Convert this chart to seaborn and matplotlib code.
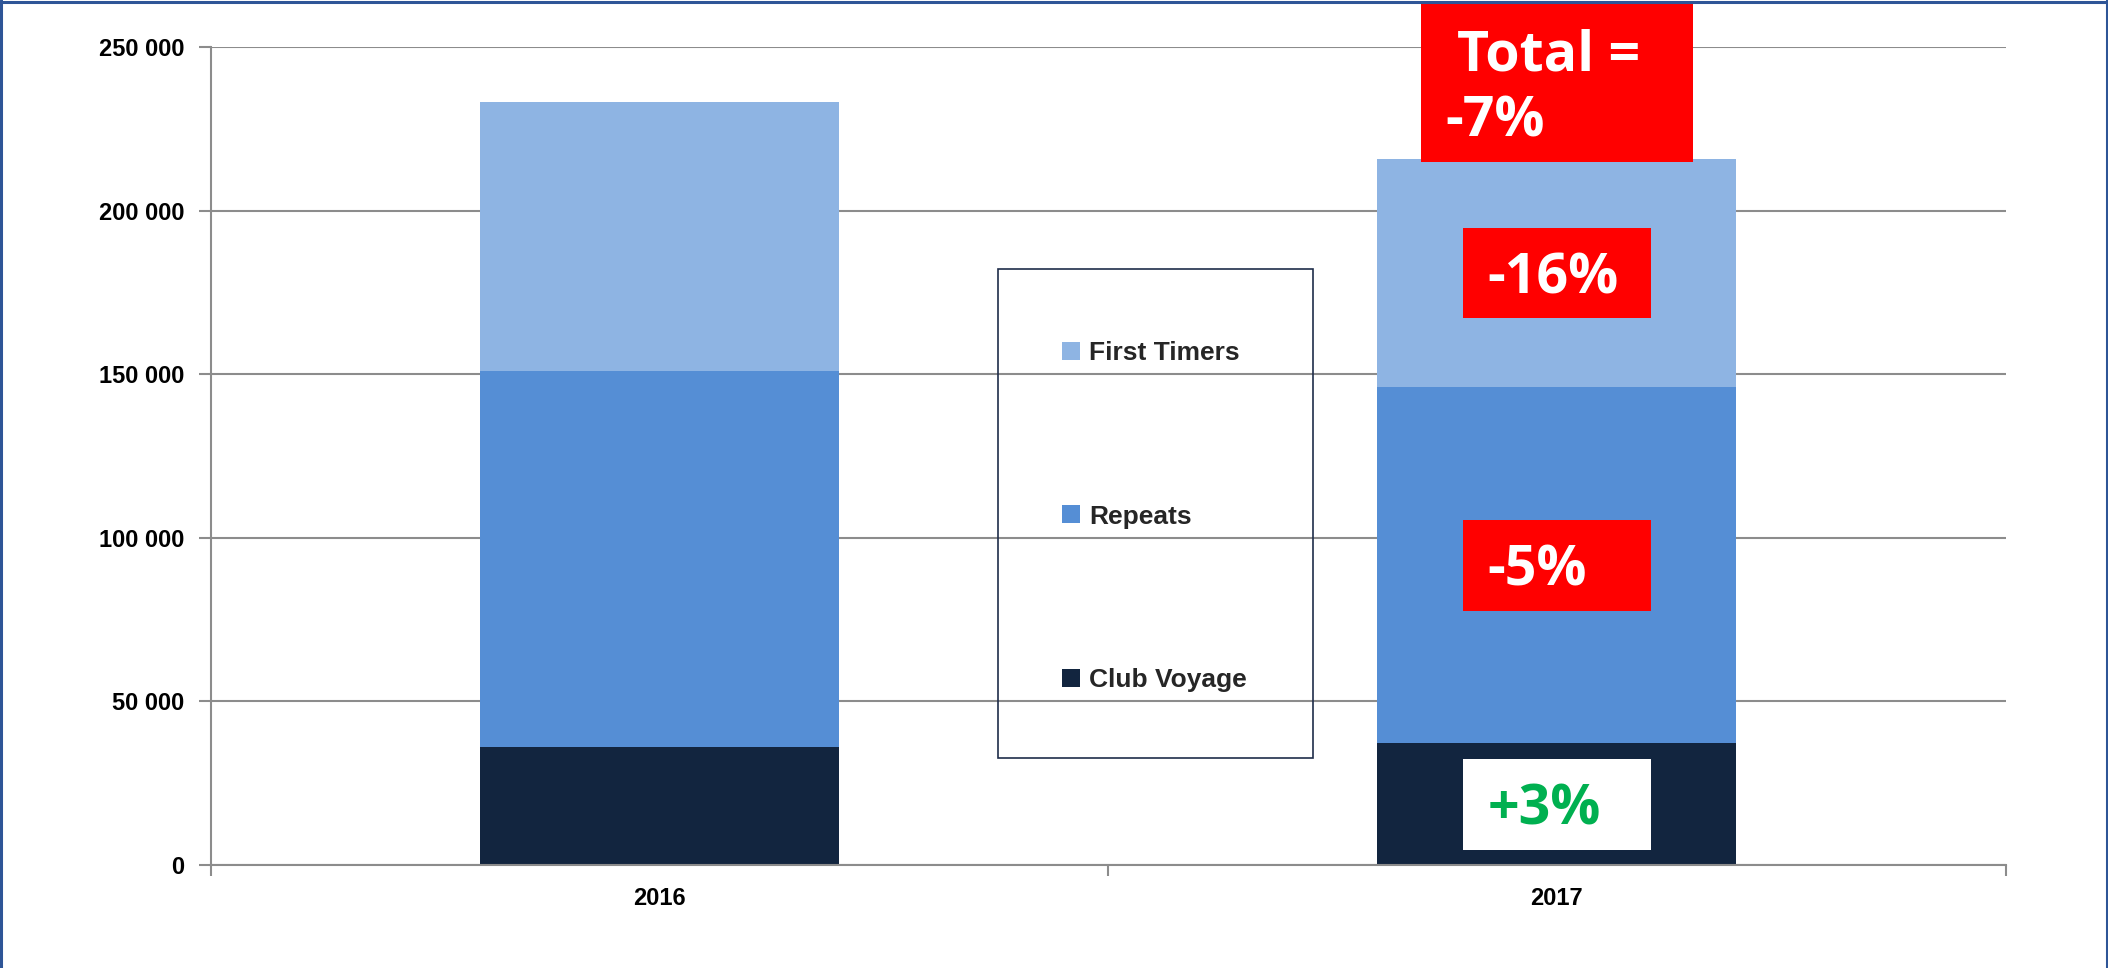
import matplotlib
matplotlib.use("Agg")
import numpy as np
import pandas as pd
import seaborn as sns
import matplotlib.pyplot as plt
from matplotlib.patches import Patch, Rectangle
from matplotlib.lines import Line2D

# ---------------- data ----------------
years = ["2016", "2017"]
club_voyage = [36000, 37200]
repeats = [114900, 109000]
first_timers = [82300, 69600]

series_names = ["First Timers", "Repeats", "Club Voyage"]
series_colors = ["#8EB4E3", "#558ED5", "#12253F"]

# change labels for 2017 segments (First Timers, Repeats, Club Voyage)
segment_changes = ["-16%", "-5%", "+3%"]
segment_box_colors = ["#FF0000", "#FF0000", "#FFFFFF"]
segment_text_colors = ["#FFFFFF", "#FFFFFF", "#00B050"]
total_change_lines = ["Total =", "-7%"]

yticks = [0, 50000, 100000, 150000, 200000, 250000]
ytick_labels = ["0", "50 000", "100 000", "150 000", "200 000", "250 000"]

# ---------------- style ----------------
sns.set_theme(style="white")
plt.rcParams["font.family"] = ["Liberation Sans", "DejaVu Sans"]

W, H = 2108, 968
fig = plt.figure(figsize=(W / 100, H / 100), dpi=100)
fig.patch.set_facecolor("white")
ax = fig.add_axes([211 / W, 103 / H, 1794.5 / W, 817.7 / H])
ax.set_facecolor("white")

df = pd.DataFrame({"year": years, "cv": club_voyage, "rep": repeats, "ft": first_timers})
df["lvl_cv"] = df["cv"]
df["lvl_rep"] = df["cv"] + df["rep"]
df["lvl_ft"] = df["lvl_rep"] + df["ft"]

for col, color in zip(["lvl_ft", "lvl_rep", "lvl_cv"], series_colors):
    sns.barplot(data=df, x="year", y=col, color=color, saturation=1, width=0.4,
                errorbar=None, ax=ax, zorder=2, linewidth=0)

grid_gray = "#8C8C8C"
ax.set_xlim(-0.5, 1.5)
ax.set_ylim(0, 250000)
ax.set_xlabel("")
ax.set_ylabel("")
ax.yaxis.grid(True, color=grid_gray, linewidth=1.5)
ax.xaxis.grid(False)
ax.set_axisbelow(True)
for s in ["top", "right"]:
    ax.spines[s].set_visible(False)
for s in ["left", "bottom"]:
    ax.spines[s].set_visible(True)
    ax.spines[s].set_color(grid_gray)
    ax.spines[s].set_linewidth(1.5)

ax.set_yticks(yticks, ytick_labels)
ax.tick_params(axis="y", which="major", length=9, width=1.5, color=grid_gray,
               direction="out", pad=10, labelsize=17, labelcolor="black", left=True)
ax.set_xticks([0, 1], years)
ax.set_xticks([-0.5, 0.5, 1.5], minor=True)
ax.tick_params(axis="x", which="major", length=0, pad=16, labelsize=17, labelcolor="black")
ax.tick_params(axis="x", which="minor", length=8, width=1.5, color=grid_gray,
               direction="out", bottom=True)
for lab in ax.get_yticklabels() + ax.get_xticklabels():
    lab.set_fontweight("bold")

# ---------------- annotations on 2017 bar ----------------
i = 1
bounds = [
    (df["lvl_rep"][i], df["lvl_ft"][i]),
    (df["lvl_cv"][i], df["lvl_rep"][i]),
    (0, df["lvl_cv"][i]),
]
box_w = 0.21
box_h = 27800
digit_half = 6300
pct_font = dict(family=["Open Sans", "DejaVu Sans"], weight="bold", size=40)
for (lo, hi), lab, bc, tc in zip(bounds, segment_changes, segment_box_colors, segment_text_colors):
    mid = (lo + hi) / 2
    ax.add_patch(Rectangle((i - box_w / 2, mid - box_h / 2), box_w, box_h,
                           facecolor=bc, edgecolor="none", zorder=3))
    ax.text(i - box_w / 2 + 0.028, mid - digit_half, lab, color=tc, ha="left", va="baseline",
            zorder=4, **pct_font)

total = df["lvl_ft"][i]
tb_w = 0.303
tb_bottom = total - 1000
ax.add_patch(Rectangle((i - tb_w / 2, tb_bottom), tb_w, 48500,
                       facecolor="#FF0000", edgecolor="none", zorder=3, clip_on=False))
for line, dx, dy in zip(total_change_lines, [0.040, 0.027], [28100, 7800]):
    ax.text(i - tb_w / 2 + dx, tb_bottom + dy, line, color="white", ha="left",
            va="baseline", zorder=4, clip_on=False, **pct_font)

# ---------------- legend ----------------
fig.add_artist(Rectangle((997.9 / W, 1 - 757.8 / H), (1312.8 - 997.9) / W, (757.8 - 268.6) / H,
                         transform=fig.transFigure, facecolor="none", edgecolor="#1F2D4A",
                         linewidth=1.2, zorder=5))
handles = [Patch(facecolor=c, edgecolor="none") for c in series_colors]
leg = fig.legend(handles, series_names, loc="upper left",
                 bbox_to_anchor=(1062 / W, 1 - 341 / H), bbox_transform=fig.transFigure,
                 frameon=False, borderpad=0, labelspacing=5.29, handlelength=0.67,
                 handleheight=0.67, handletextpad=0.36, borderaxespad=0,
                 prop={"family": ["Liberation Sans", "DejaVu Sans"], "weight": "bold", "size": 19})
leg.set_zorder(5)

# ---------------- figure border ----------------
bc = "#2E5597"
fig.add_artist(Line2D([0, 1], [1 - 1.5 / H, 1 - 1.5 / H], transform=fig.transFigure, color=bc, lw=2.2))
fig.add_artist(Line2D([1.2 / W, 1.2 / W], [0, 1], transform=fig.transFigure, color=bc, lw=2.2))
fig.add_artist(Line2D([1 - 1.5 / W, 1 - 1.5 / W], [0, 1], transform=fig.transFigure, color=bc, lw=2.2))

fig.savefig("out.png", dpi=100)
